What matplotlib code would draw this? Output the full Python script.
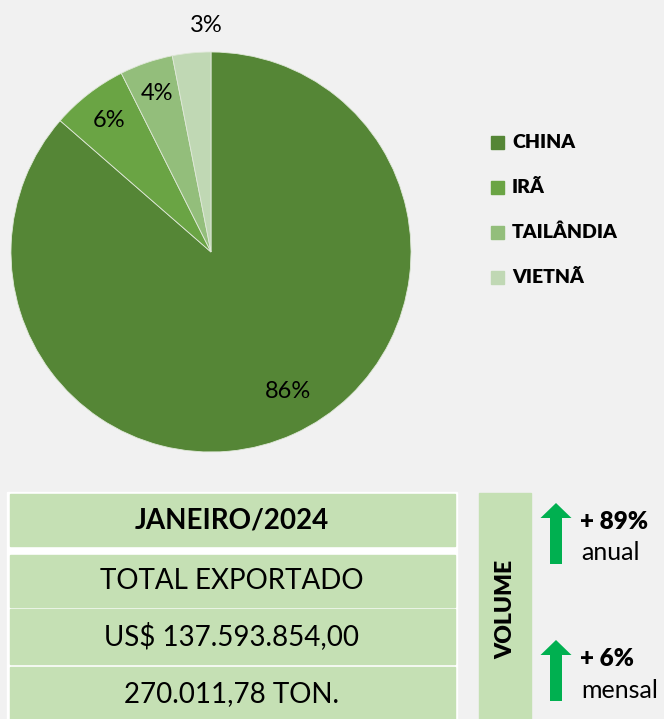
import matplotlib
matplotlib.use('Agg')
import matplotlib.pyplot as plt
from matplotlib.patches import Rectangle, FancyArrow
import numpy as np

# pie data
countries = ['CHINA', 'IRÃ', 'TAILÂNDIA', 'VIETNÃ']
shares = [86.4, 6.2, 4.3, 3.1]
colors = ['#558636', '#6aa444', '#93be7b', '#c0d8b4']
# label placement: distance from centre (radius units) and angle shift (deg)
label_dist = [0.795, 0.83, 0.84, 1.135]
label_shift = [4.5, 0, 0, -4.3]

# summary box
period = 'JANEIRO/2024'
table_rows = ['TOTAL EXPORTADO', 'US$ 137.593.854,00', '270.011,78 TON.']
volume_changes = ['+ 89%', '+ 6%']
change_periods = ['anual', 'mensal']

plt.rcParams['font.family'] = ['Lato', 'DejaVu Sans']

W, H = 664, 719
fig = plt.figure(figsize=(W / 100, H / 100), dpi=100)
fig.patch.set_facecolor('#f1f1f1')

# background axes in pixel units (y downwards)
bg = fig.add_axes([0, 0, 1, 1])
bg.set_xlim(0, W)
bg.set_ylim(H, 0)
bg.axis('off')

# pie
ax = fig.add_axes([11 / W, (H - 452) / H, 400 / W, 400 / H])
ax.set_facecolor('none')
wedges, texts, autotexts = ax.pie(shares, colors=colors, startangle=90, counterclock=False,
                                  radius=1, autopct='%.0f%%', textprops={'fontsize': 17},
                                  wedgeprops={'edgecolor': '#dfe8d8', 'linewidth': 0.6})
for w, t, d, s in zip(wedges, autotexts, label_dist, label_shift):
    ang = np.deg2rad((w.theta1 + w.theta2) / 2 + s)
    t.set_position((d * np.cos(ang), d * np.sin(ang)))
    t.set_color('black')
ax.set_xlim(-1, 1)
ax.set_ylim(-1, 1)
ax.set_aspect('equal')

# legend
for i, (name, c) in enumerate(zip(countries, colors)):
    y = 142 + i * 45.3
    bg.add_patch(Rectangle((491, y - 6.5), 13, 13, color=c))
    bg.text(512, y, name, fontsize=14, fontweight='heavy', va='center', ha='left')

# table
bg.add_patch(Rectangle((7, 492), 450, 230, color='white'))
box_green = '#c5e0b4'
row_tops = [494, 555, 609, 667]
row_bottoms = [546, 607, 664, 722]
row_texts = [period] + table_rows
for k, (t0, t1, txt) in enumerate(zip(row_tops, row_bottoms, row_texts)):
    bg.add_patch(Rectangle((10, t0), 445, t1 - t0, color=box_green))
    bg.text(232, (t0 + t1) / 2, txt, fontsize=20, ha='center', va='center',
            fontweight='bold' if k == 0 else 'normal')

# volume box
bg.add_patch(Rectangle((479, 493), 52, 230, color=box_green))
bg.text(506, 609, 'VOLUME', rotation=90, fontsize=16.5, fontweight='heavy', ha='center', va='center')

# arrows and changes
arrow_tops = [503, 640]
for top, chg, per in zip(arrow_tops, volume_changes, change_periods):
    bg.add_patch(FancyArrow(556, top + 61, 0, -61, width=12, head_width=31, head_length=15,
                            length_includes_head=True, color='#00b050', lw=0))
    bg.text(580, top + 19, chg, fontsize=17.5, fontweight='heavy', ha='left', va='center')
    bg.text(581, top + 50, per, fontsize=18, ha='left', va='center')

fig.savefig('out.png', dpi=100, facecolor=fig.get_facecolor())
